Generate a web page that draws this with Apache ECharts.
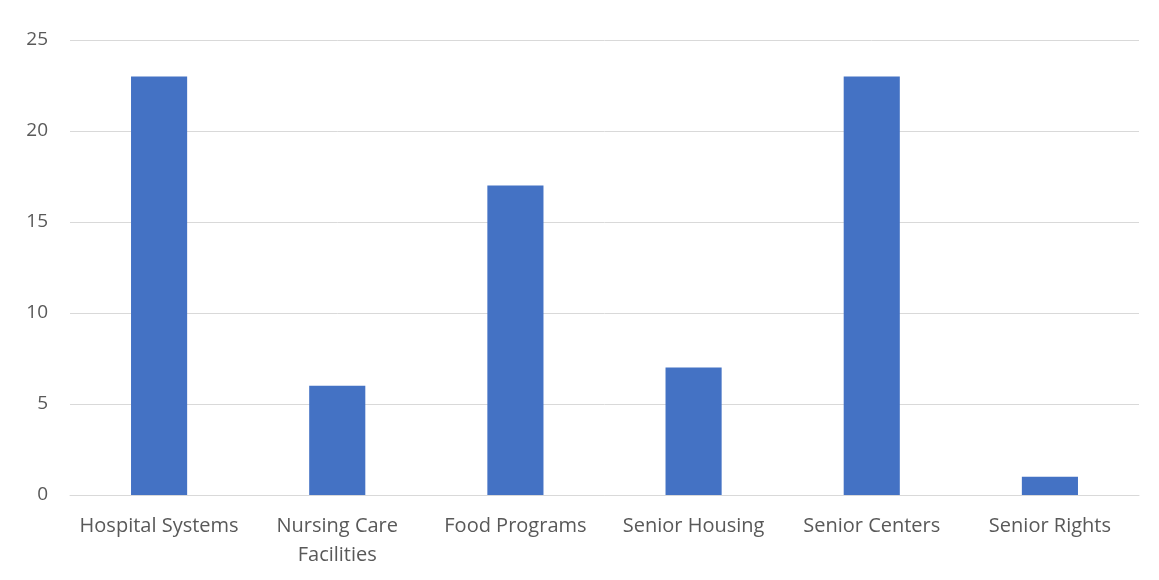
<!DOCTYPE html>
<html><head><meta charset="utf-8">
<script src="https://cdn.jsdelivr.net/npm/echarts@6/dist/echarts.min.js"></script>
<style>html,body{margin:0;padding:0;background:#fff}#c{width:1159px;height:580px}</style>
</head><body><div id="c"></div>
<script>
const categories = ["Hospital Systems", "Nursing Care\nFacilities", "Food Programs", "Senior Housing", "Senior Centers", "Senior Rights"];
const values = [23, 6, 17, 7, 23, 1];
const yTicks = [0, 5, 10, 15, 20, 25];

const chart = echarts.init(document.getElementById('c'));
chart.setOption({
  animation: false,
  grid: {left: 70, right: 20, top: 40, bottom: 85},
  xAxis: {
    type: 'category', data: categories,
    axisLine: {lineStyle: {color: '#d9d9d9', width: 1}},
    axisTick: {show: false},
    axisLabel: {color: '#595959', fontSize: 20, fontFamily: 'Open Sans', margin: 17, lineHeight: 29, interval: 0}
  },
  yAxis: {
    type: 'value', min: yTicks[0], max: yTicks[yTicks.length-1], interval: 5,
    axisLine: {show: false}, axisTick: {show: false},
    splitLine: {lineStyle: {color: '#d9d9d9', width: 1}},
    axisLabel: {color: '#595959', fontSize: 19, fontFamily: 'Open Sans', margin: 22}
  },
  series: [{type: 'bar', data: values, barWidth: '31.5%', itemStyle: {color: '#4472c4'}}]
});
</script></body></html>
